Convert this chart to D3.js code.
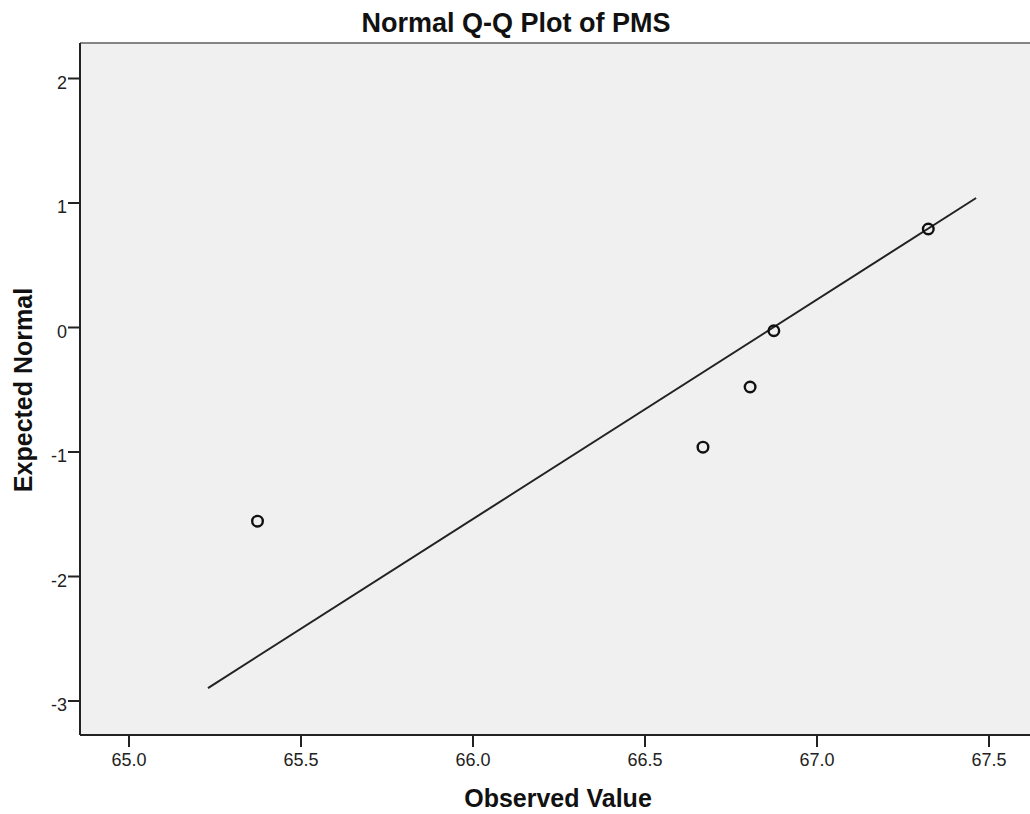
<!DOCTYPE html>
<html>
<head>
<meta charset="utf-8">
<script src="https://cdn.jsdelivr.net/npm/d3@7"></script>
<style>
  body { margin: 0; background: #fff; }
  text { font-family: "Liberation Sans", Arial, sans-serif; }
</style>
</head>
<body>
<div id="chart"></div>
<script>
// observed PMS values and their expected normal scores
var observed = [65.375, 66.67, 66.807, 66.876, 67.325];
var expected = [-1.56, -0.965, -0.482, -0.03, 0.787];
// reference line end points
var lineX = [65.231, 67.464];
var lineY = [-2.90, 1.036];
var xTicks = [65.0, 65.5, 66.0, 66.5, 67.0, 67.5];
var yTicks = [-3, -2, -1, 0, 1, 2];

var width = 1030, height = 814;
var plotL = 80, plotT = 43, plotR = 1030, plotB = 735;

var svg = d3.select("#chart").append("svg")
    .attr("width", width)
    .attr("height", height);

// 65.0 sits at 128.5px, 0.5 units = 172px
var x = d3.scaleLinear()
    .domain([65, 67.5])
    .range([128.5, 988.5]);
var y = d3.scaleLinear()
    .domain([-3, 2])
    .range([700.5, 78]);

svg.append("rect")
    .attr("x", plotL).attr("y", plotT)
    .attr("width", plotR - plotL).attr("height", plotB - plotT)
    .attr("fill", "#f0f0f0");

// top frame line is grey
svg.append("line")
    .attr("x1", plotL).attr("x2", plotR)
    .attr("y1", plotT).attr("y2", plotT)
    .attr("stroke", "#858585").attr("stroke-width", 2);

var xAxis = svg.append("g")
    .attr("transform", "translate(0," + plotB + ")")
    .call(d3.axisBottom(x).tickValues(xTicks).tickFormat(d3.format(".1f")).tickSize(12).tickSizeOuter(0));
xAxis.select(".domain").attr("d", "M" + plotL + ",0H" + plotR);

var yAxis = svg.append("g")
    .attr("transform", "translate(" + plotL + ",0)")
    .call(d3.axisLeft(y).tickValues(yTicks).tickFormat(function (d) { return String(d); }).tickSize(12).tickSizeOuter(0));
yAxis.select(".domain").attr("d", "M0," + plotT + "V" + plotB);

svg.selectAll(".domain").attr("stroke", "#222").attr("stroke-width", 2);
svg.selectAll(".tick line").attr("stroke", "#222").attr("stroke-width", 2);
svg.selectAll(".tick text")
    .style("font-family", "Liberation Sans, Arial, sans-serif")
    .style("font-size", "18px")
    .attr("fill", "#222");
xAxis.selectAll(".tick text").attr("y", 31).attr("dy", 0);
yAxis.selectAll(".tick text").attr("x", -13).attr("dy", 10);

svg.append("line")
    .attr("x1", x(lineX[0])).attr("y1", y(lineY[0]))
    .attr("x2", x(lineX[1])).attr("y2", y(lineY[1]))
    .attr("stroke", "#222").attr("stroke-width", 2);

svg.selectAll("circle.pt")
    .data(observed)
    .enter().append("circle")
    .attr("class", "pt")
    .attr("cx", function (d) { return x(d); })
    .attr("cy", function (d, i) { return y(expected[i]); })
    .attr("r", 5.3)
    .attr("fill", "none")
    .attr("stroke", "#111")
    .attr("stroke-width", 2.4);

svg.append("text")
    .attr("x", 516).attr("y", 32)
    .attr("text-anchor", "middle")
    .attr("font-size", 27).attr("font-weight", "bold")
    .attr("fill", "#111")
    .text("Normal Q-Q Plot of PMS");

svg.append("text")
    .attr("x", 558).attr("y", 807)
    .attr("text-anchor", "middle")
    .attr("font-size", 25).attr("font-weight", "bold")
    .attr("fill", "#111")
    .text("Observed Value");

svg.append("text")
    .attr("transform", "translate(32,390) rotate(-90)")
    .attr("text-anchor", "middle")
    .attr("font-size", 25).attr("font-weight", "bold")
    .attr("fill", "#111")
    .text("Expected Normal");
</script>
</body>
</html>
